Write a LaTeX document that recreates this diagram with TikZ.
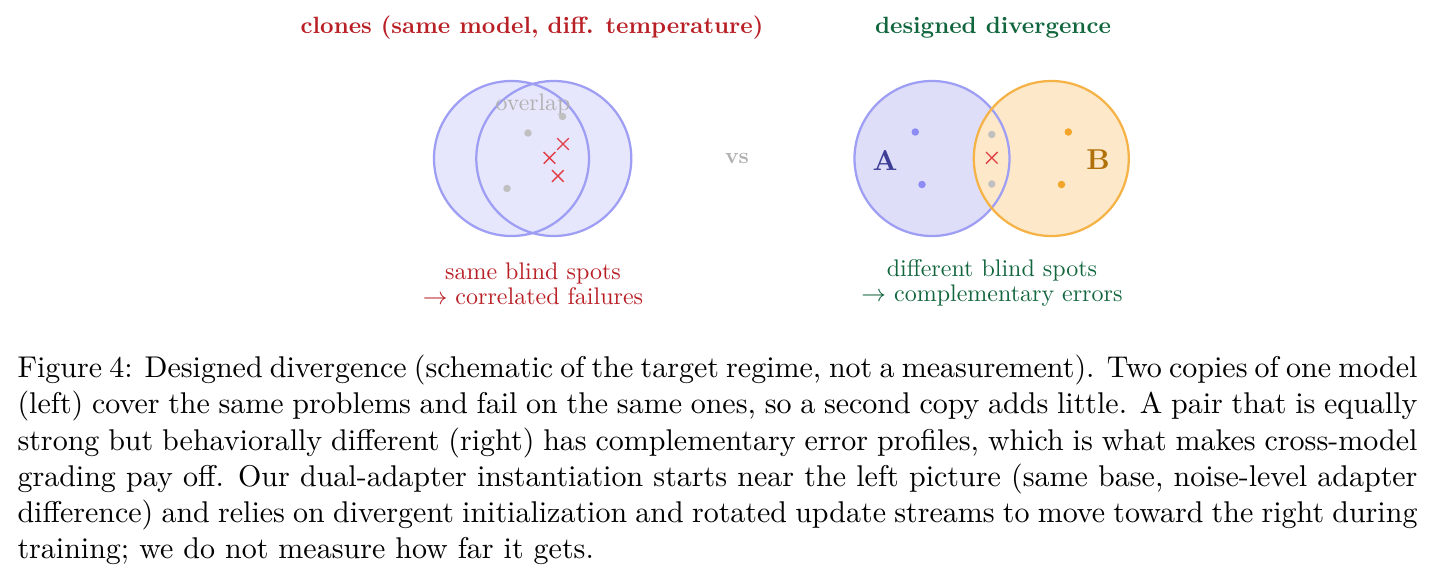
\RequirePackage{fix-cm}
\documentclass[tikz,border=0pt]{standalone}
\usepackage{fontspec}
\setmainfont{lmroman10-regular.otf}[BoldFont=lmroman10-bold.otf,ItalicFont=lmroman10-italic.otf,BoldItalicFont=lmroman10-bolditalic.otf]
\usepackage{tikz}
\definecolor{cred}{RGB}{185,32,38}
\definecolor{cgreen}{RGB}{18,102,62}
\definecolor{bstroke}{RGB}{158,158,244}
\definecolor{bfillL}{RGB}{230,230,252}
\definecolor{bfillA}{RGB}{222,222,249}
\definecolor{ostroke}{RGB}{245,178,70}
\definecolor{ofill}{RGB}{253,233,202}
\definecolor{bdot}{RGB}{140,140,244}
\definecolor{odot}{RGB}{242,165,40}
\definecolor{gdot}{RGB}{192,192,192}
\definecolor{xred}{RGB}{226,62,72}
\definecolor{ltext}{RGB}{176,176,176}
\definecolor{atext}{RGB}{62,62,150}
\definecolor{btext}{RGB}{176,112,10}
\begin{document}
\begin{tikzpicture}[x=0.4pt,y=-0.4pt,
  ring/.style={line width=0.9pt},
  dotmark/.style={radius=1.5pt},
  xmark/.style={xred,line width=0.55pt},
  titletext/.style={font=\fontsize{9.42}{11}\selectfont\bfseries,inner sep=0pt,anchor=base},
  subtext/.style={font=\fontsize{9.6}{10}\selectfont,inner sep=0pt,align=center},
]
\useasboundingbox (0,0) rectangle (1434,580);
% ---- left: clones
\fill[bfillL] (511.5,158.5) circle[radius=31pt];
\fill[bfillL] (553.8,158.5) circle[radius=31pt];
\draw[ring,bstroke] (511.5,158.5) circle[radius=31pt];
\draw[ring,bstroke] (553.8,158.5) circle[radius=31pt];
\node[font=\fontsize{9.5}{11}\selectfont,text=ltext,inner sep=0pt] (ov) at (533,105) {overlap};
\fill[gdot] (562.5,116.5) circle[dotmark];
\fill[gdot] (528,133) circle[dotmark];
\fill[gdot] (507,188.5) circle[dotmark];
\foreach \cx/\cy in {563/144, 549.5/157.8, 557.8/176}
  \draw[xmark] (\cx-5.8,\cy-5.8) -- (\cx+5.8,\cy+5.8) (\cx-5.8,\cy+5.8) -- (\cx+5.8,\cy-5.8);
\node[titletext,text=cred] (t1) at (532,34) {clones (same model, diff. temperature)};
\node[subtext,text=cred] (s1) at (533,283.5) {same blind spots\\$\rightarrow$ correlated failures};
% ---- vs
\node[font=\fontsize{9}{11}\selectfont\bfseries,text=ltext,inner sep=0pt] (vs) at (737,158) {vs};
% ---- right: designed divergence
\fill[bfillA] (932,158.5) circle[radius=31pt];
\fill[ofill] (1051.3,158.5) circle[radius=31pt];
\draw[ring,bstroke] (932,158.5) circle[radius=31pt];
\draw[ring,ostroke] (1051.3,158.5) circle[radius=31pt];
\fill[bdot] (915.3,132) circle[dotmark];
\fill[bdot] (922,184.5) circle[dotmark];
\fill[odot] (1068.3,132) circle[dotmark];
\fill[odot] (1061.5,184.5) circle[dotmark];
\fill[gdot] (991.8,134.5) circle[dotmark];
\fill[gdot] (991.8,184) circle[dotmark];
\draw[xmark] (991.8-5.8,157.8-5.8) -- (991.8+5.8,157.8+5.8) (991.8-5.8,157.8+5.8) -- (991.8+5.8,157.8-5.8);
\node[font=\fontsize{11.5}{13}\selectfont\bfseries,text=atext,inner sep=0pt] (la) at (885,160) {A};
\node[font=\fontsize{11.5}{13}\selectfont\bfseries,text=btext,inner sep=0pt] (lb) at (1098,160) {B};
\node[titletext,text=cgreen] (t2) at (993,34) {designed divergence};
\node[subtext,text=cgreen] (s2) at (992,282.5) {different blind spots\\$\rightarrow$ complementary errors};
% ---- caption
\node[font=\fontsize{12}{14.5}\selectfont,text width=560pt,align=justify,inner sep=0pt,anchor=north west] (cap) at (17,354.5)
{Figure 4: Designed divergence (schematic of the target regime, not a measurement). Two copies of one model\linebreak
(left) cover the same problems and fail on the same ones, so a second copy adds little. A pair that is equally\linebreak
strong but behaviorally different (right) has complementary error profiles, which is what makes cross-model\linebreak
grading pay off. Our dual-adapter instantiation starts near the left picture (same base, noise-level adapter\linebreak
difference) and relies on divergent initialization and rotated update streams to move toward the right during\linebreak
training; we do not measure how far it gets.};
\end{tikzpicture}
\end{document}
